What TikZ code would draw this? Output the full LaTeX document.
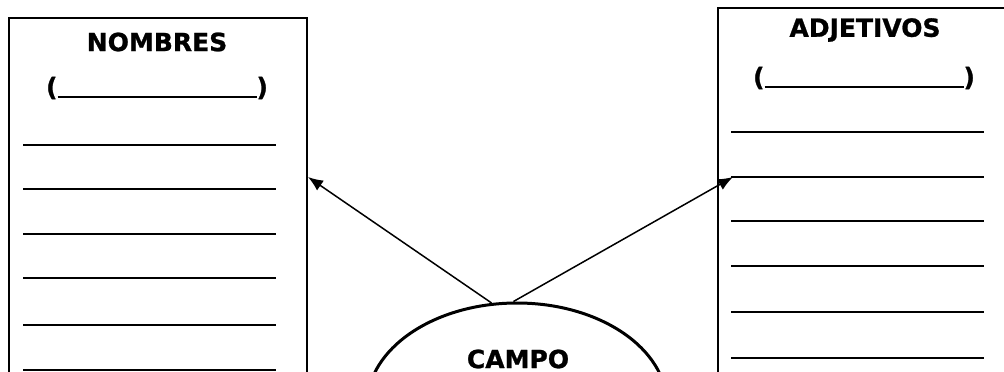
\documentclass[tikz,border=0pt]{standalone}
\usepackage{fontspec}
\setmainfont[BoldFeatures={FakeBold=1}]{DejaVu Sans}
\usetikzlibrary{shapes.geometric,arrows.meta}
\tikzset{
  box/.style={draw, line width=1.5pt, anchor=north west, inner sep=0pt},
  title/.style={font=\fontsize{25}{30}\selectfont\bfseries, inner sep=0pt},
  wline/.style={line width=2pt},
  arrow/.style={line width=1.5pt, -{Latex[length=15pt,width=12pt]}}
}
\begin{document}
\begin{tikzpicture}[x=1pt, y=-1pt]
    \clip (0,0) rectangle (1004,372);
    % nombres
    \node (nombres) [box, minimum width=298pt, minimum height=420pt] at (8,17) {};
    \node (nombrestit) [title] at (157,42) {NOMBRES};
    \node (nombrespar) [title] at (157,88) {(\rule[-2pt]{199pt}{1.8pt})};
    \foreach \y in {145,189,234,278,325,370}
        \draw[wline] (23,\y) -- (276,\y);
    % adjetivos
    \node (adjetivos) [box, minimum width=300pt, minimum height=420pt] at (717,7) {};
    \node (adjetivostit) [title] at (865,30) {ADJETIVOS};
    \node (adjetivospar) [title] at (864,78) {(\rule[-2pt]{199pt}{1.8pt})};
    \foreach \y in {132,177,221,266,312,358}
        \draw[wline] (731,\y) -- (984,\y);
    % campo
    \node (campo) [ellipse, draw, line width=3pt, minimum width=300pt, minimum height=204pt] at (517,405) {};
    \node (campotxt) [title] at (518,359) {CAMPO};
    \coordinate (nomend) at (308,177);
    \coordinate (adjend) at (733,177);
    \draw[arrow] (campo.104) -- (nomend);
    \draw[arrow] (campo.92) -- (adjend);
\end{tikzpicture}
\end{document}
